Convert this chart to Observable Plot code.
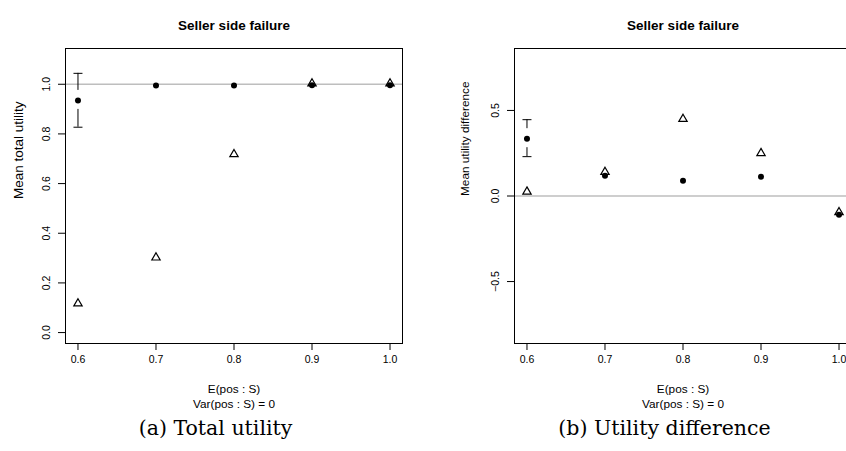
<!DOCTYPE html>
<html>
<head>
<meta charset="utf-8">
<script src="https://cdn.jsdelivr.net/npm/d3@7"></script>
<script src="https://cdn.jsdelivr.net/npm/@observablehq/plot@0.6"></script>
<style>
  html, body { margin: 0; padding: 0; background: #fff; }
  #wrap { position: relative; width: 846px; height: 451px; overflow: hidden; background: #fff; }
  #wrap > div { position: absolute; top: 0; }
  #wrap svg { max-width: none !important; }
</style>
</head>
<body>
<div id="wrap"><div id="pa" style="left:0px"></div><div id="pb" style="left:426px"></div></div>
<script>
// ---- data ----
const xVals = [0.6, 0.7, 0.8, 0.9, 1.0];
const xTicks = [0.6, 0.7, 0.8, 0.9, 1.0];

// (a) Total utility
const totalDot = [0.935, 0.995, 0.995, 0.996, 0.996];
const totalTri = [0.117, 0.302, 0.718, 1.003, 1.003];
const totalErrX = [0.6];
const totalErrLow = [0.827];
const totalErrHigh = [1.044];
const totalYTicks = [0, 0.2, 0.4, 0.6, 0.8, 1.0];
const totalRef = [1];

// (b) Utility difference
const diffDot = [0.335, 0.119, 0.089, 0.113, -0.110];
const diffTri = [0.025, 0.140, 0.450, 0.250, -0.095];
const diffErrX = [0.6];
const diffErrLow = [0.230];
const diffErrHigh = [0.446];
const diffYTicks = [-0.5, 0, 0.5];
const diffRef = [0];

const titleText = "Seller side failure";
const xTitle1 = "E(pos : S)";
const xTitle2 = "Var(pos : S) = 0";

// ---- drawing ----
const capSymbol = {
  draw(ctx) { ctx.moveTo(-4.5, 0); ctx.lineTo(4.5, 0); }
};
const fmt = d => d.toFixed(1).replace("-", "\u2212");

function panel(o) {
  const pts = xVals.map((x, i) => ({x, dot: o.dot[i], tri: o.tri[i]}));
  const err = o.errX.map((x, i) => ({x, lo: o.errLow[i], hi: o.errHigh[i], mid: o.dot[xVals.indexOf(x)]}));
  return Plot.plot({
    width: o.width,
    height: 451,
    marginTop: 48,
    marginBottom: 108,
    marginLeft: o.marginLeft,
    marginRight: o.marginRight,
    style: {fontFamily: "'Liberation Sans', Arial, Helvetica, sans-serif", fontSize: "10.5px", background: "white", color: "black"},
    x: {domain: [0.584, 1.016], label: null},
    y: {domain: o.yDomain, label: null},
    marks: [
      Plot.ruleY(o.ref, {stroke: "#bebebe", strokeWidth: 1.3}),
      Plot.frame({stroke: "black", strokeWidth: 1}),
      Plot.axisX({ticks: xTicks, tickFormat: fmt, tickSize: 7, tickPadding: 5, fontSize: 10.5, stroke: "black"}),
      Plot.axisY({ticks: o.yTicks, tickFormat: fmt, tickSize: 7, tickRotate: -90, tickPadding: 9, fontSize: 10.5, stroke: "black"}),
      Plot.ruleX(err, {x: "x", y1: "hi", y2: "mid", insetBottom: 10, stroke: "black"}),
      Plot.ruleX(err, {x: "x", y1: "mid", y2: "lo", insetTop: 9, stroke: "black"}),
      Plot.dot(err, {x: "x", y: "hi", symbol: capSymbol, fill: "none", stroke: "black", strokeWidth: 1}),
      Plot.dot(err, {x: "x", y: "lo", symbol: capSymbol, fill: "none", stroke: "black", strokeWidth: 1}),
      Plot.dot(pts, {x: "x", y: "dot", r: 3, fill: "black", stroke: "none"}),
      Plot.dot(pts, {x: "x", y: "tri", symbol: "triangle", r: 3.1, fill: "none", stroke: "black", strokeWidth: 1.2}),
      Plot.text([titleText], {text: d => d, frameAnchor: "top", dy: -28, fontWeight: "bold", fontSize: 13.5}),
      Plot.text([xTitle1], {text: d => d, frameAnchor: "bottom", dy: 49.5, fontSize: 11.8}),
      Plot.text([xTitle2], {text: d => d, frameAnchor: "bottom", dy: 64, fontSize: 11.8}),
      Plot.text([o.ylabel], {text: d => d, frameAnchor: "left", dx: o.ylabDx, dy: o.ylabDy, rotate: -90, fontSize: o.ylabSize}),
      Plot.text([o.caption], {text: d => d, frameAnchor: "bottom", dy: 91, dx: -18.5, fontSize: 20.5, fontFamily: "'DejaVu Serif', 'Liberation Serif', serif"})
    ]
  });
}

document.getElementById("pa").appendChild(panel({
  width: 423, marginLeft: 65, marginRight: 21,
  yDomain: [-0.044, 1.144], yTicks: totalYTicks, ref: totalRef,
  dot: totalDot, tri: totalTri, errX: totalErrX, errLow: totalErrLow, errHigh: totalErrHigh,
  ylabel: "Mean total utility", ylabDx: -47, ylabDy: 3, ylabSize: 13.5,
  caption: "(a) Total utility"
}));

document.getElementById("pb").appendChild(panel({
  width: 426, marginLeft: 88, marginRight: 1,
  yDomain: [-0.862, 0.862], yTicks: diffYTicks, ref: diffRef,
  dot: diffDot, tri: diffTri, errX: diffErrX, errLow: diffErrLow, errHigh: diffErrHigh,
  ylabel: "Mean utility difference", ylabDx: -49, ylabDy: 0, ylabSize: 11.8,
  caption: "(b) Utility difference"
}));
</script>
</body>
</html>
